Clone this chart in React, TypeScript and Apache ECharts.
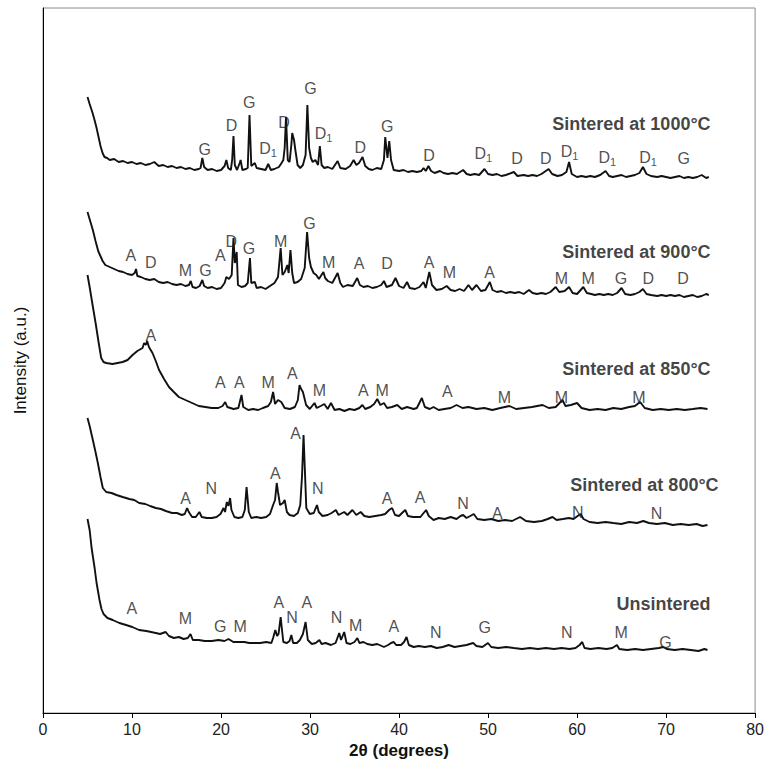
import React, { useEffect, useRef } from "react";
import * as echarts from "echarts";

// XRD traces: [2θ (deg), intensity (a.u., stacked)]
const trace1000: number[][] = [
  [5.0, 616], [5.24, 609], [5.57, 600], [5.79, 593], [6.02, 585], [6.24, 576], [6.46, 567], [6.69, 560], [6.91, 556],
  [7.2, 555], [7.5, 553], [8.0, 554], [8.5, 551], [9.0, 552], [9.5, 550], [10.0, 551], [10.5, 549], [11.0, 550],
  [11.5, 548], [12.0, 549], [12.5, 551], [13.0, 547], [13.5, 548], [14.0, 546], [14.5, 547], [15.0, 545], [15.5, 546],
  [16.0, 544], [16.5, 545], [17.0, 543], [17.5, 544], [17.7, 545], [17.9, 555], [18.1, 546], [18.5, 543], [19.0, 544],
  [19.5, 542], [20.0, 543], [20.4, 547], [20.6, 553], [20.8, 545], [21.1, 543], [21.25, 553], [21.4, 577], [21.55, 548],
  [21.8, 543], [22.1, 550], [22.2, 553], [22.4, 543], [22.8, 544], [23.0, 545], [23.2, 598], [23.4, 547], [23.8, 550],
  [24.0, 545], [24.5, 544], [25.0, 543], [25.3, 549], [25.6, 543], [26.0, 544], [26.5, 546], [26.8, 550], [27.0, 553],
  [27.15, 565], [27.3, 596], [27.5, 553], [27.7, 551], [27.9, 568], [28.0, 580], [28.2, 573], [28.35, 563], [28.6, 548],
  [28.9, 545], [29.2, 548], [29.5, 558], [29.7, 608], [29.9, 565], [30.1, 555], [30.3, 551], [30.6, 553], [30.9, 548],
  [31.1, 567], [31.3, 548], [31.6, 545], [32.0, 546], [32.5, 544], [33.1, 552], [33.4, 545], [34.0, 544], [34.5, 547],
  [34.9, 553], [35.2, 548], [35.5, 550], [35.9, 556], [36.2, 547], [36.6, 544], [37.0, 543], [37.5, 545], [38.0, 544],
  [38.3, 553], [38.45, 576], [38.7, 555], [38.9, 572], [39.1, 553], [39.4, 543], [40.0, 542], [40.5, 543], [41.0, 541],
  [41.5, 542], [42.0, 541], [42.5, 542], [42.75, 545], [43.0, 542], [43.3, 547], [43.6, 542], [44.0, 540], [44.6, 542],
  [45.0, 540], [45.5, 539], [46.0, 540], [46.5, 539], [47.2, 543], [47.6, 539], [48.0, 538], [48.5, 539], [49.0, 538],
  [49.6, 544], [50.0, 539], [50.5, 538], [51.0, 539], [51.5, 537], [52.0, 538], [52.9, 541], [53.3, 537], [54.0, 538],
  [54.5, 537], [55.0, 538], [55.5, 537], [56.0, 539], [56.8, 544], [57.2, 539], [57.8, 537], [58.3, 538], [58.8, 541],
  [59.1, 551], [59.4, 539], [60.0, 536], [60.5, 537], [61.0, 536], [61.5, 537], [62.0, 536], [62.6, 538], [63.2, 542],
  [63.6, 537], [64.0, 536], [64.5, 537], [65.0, 538], [65.5, 536], [66.0, 537], [66.5, 538], [67.0, 540], [67.4, 546],
  [67.8, 539], [68.3, 537], [69.0, 536], [69.5, 537], [70.0, 536], [70.5, 535], [71.0, 536], [71.5, 537], [72.0, 535],
  [72.5, 536], [73.0, 535], [73.5, 536], [74.0, 538], [74.5, 535], [74.8, 536],
];

const trace900: number[][] = [
  [5.0, 501], [5.3, 492], [5.6, 483], [5.9, 472], [6.2, 462], [6.5, 456], [6.7, 452], [7.0, 448], [7.5, 446], [8.0, 444],
  [8.5, 442], [9.0, 441], [9.5, 439], [10.0, 438], [10.3, 440], [10.45, 444], [10.6, 437], [11.0, 436], [11.5, 434],
  [12.0, 433], [12.5, 434], [13.0, 431], [13.5, 430], [14.0, 431], [14.5, 429], [15.0, 428], [15.5, 429], [16.0, 427],
  [16.4, 428], [16.6, 432], [16.8, 426], [17.2, 425], [17.6, 427], [17.9, 433], [18.1, 427], [18.5, 425], [19.0, 426],
  [19.5, 424], [20.0, 425], [20.4, 430], [20.6, 436], [20.9, 434], [21.2, 438], [21.4, 475], [21.55, 450], [21.76, 461],
  [21.9, 428], [22.3, 426], [22.7, 427], [23.0, 430], [23.25, 455], [23.4, 430], [23.8, 431], [24.0, 425], [24.5, 426],
  [25.0, 424], [25.5, 427], [26.0, 430], [26.4, 436], [26.7, 465], [26.9, 438], [27.15, 441], [27.45, 448], [27.6, 440],
  [27.8, 463], [28.0, 440], [28.2, 430], [28.6, 431], [29.0, 434], [29.4, 445], [29.67, 481], [29.9, 455], [30.1, 446],
  [30.4, 440], [30.7, 438], [31.0, 434], [31.5, 441], [31.7, 435], [32.0, 432], [32.5, 430], [33.1, 440], [33.4, 430],
  [33.7, 426], [34.2, 428], [34.8, 427], [35.3, 435], [35.6, 428], [36.0, 426], [36.5, 427], [37.0, 425], [37.5, 426],
  [38.0, 428], [38.3, 432], [38.6, 426], [39.2, 428], [39.6, 435], [40.0, 427], [40.5, 425], [40.9, 431], [41.2, 425],
  [41.8, 424], [42.3, 426], [42.75, 431], [43.0, 425], [43.4, 441], [43.7, 428], [44.2, 423], [44.8, 424], [45.35, 427],
  [45.8, 423], [46.3, 422], [46.8, 424], [47.3, 422], [47.8, 428], [48.2, 423], [48.7, 428], [49.2, 422], [49.7, 423],
  [50.2, 431], [50.5, 423], [51.0, 421], [51.5, 422], [52.0, 420], [52.5, 421], [53.0, 420], [53.5, 421], [54.0, 419],
  [54.6, 423], [55.0, 420], [55.5, 419], [56.0, 420], [56.5, 419], [57.0, 421], [57.6, 426], [58.0, 421], [58.6, 422],
  [59.1, 426], [59.5, 420], [60.0, 419], [60.7, 426], [61.1, 420], [61.6, 419], [62.0, 418], [62.5, 419], [63.0, 418],
  [63.5, 419], [64.0, 418], [64.5, 420], [65.0, 425], [65.4, 419], [66.0, 418], [66.5, 419], [67.0, 421], [67.4, 424],
  [67.8, 419], [68.3, 418], [69.0, 417], [69.5, 418], [70.0, 417], [70.5, 418], [71.0, 417], [71.5, 418], [72.0, 416],
  [72.5, 417], [73.0, 418], [73.5, 416], [74.0, 417], [74.5, 419], [74.8, 418],
];

const trace850: number[][] = [
  [5.0, 438], [5.24, 426], [5.57, 408], [5.91, 390], [6.24, 371], [6.54, 355], [6.8, 351], [7.1, 350], [7.8, 349],
  [8.95, 351], [9.5, 353], [10.06, 358], [10.6, 362], [11.18, 365], [11.36, 370], [11.55, 368], [11.7, 372], [11.9, 366],
  [12.3, 360], [12.67, 352], [13.04, 343], [13.6, 334], [14.15, 326], [14.7, 321], [15.26, 316], [16.0, 313], [16.75, 310],
  [17.5, 307], [18.24, 306], [18.94, 305], [19.7, 305], [20.17, 307], [20.47, 311], [20.7, 306], [21.4, 304], [21.95, 305],
  [22.3, 318], [22.5, 306], [23.06, 303], [23.6, 304], [24.18, 303], [24.7, 305], [25.3, 307], [25.6, 311], [25.85, 321],
  [26.07, 309], [26.4, 313], [26.77, 311], [27.15, 305], [27.75, 304], [28.3, 306], [28.63, 313], [28.82, 328], [29.0, 324],
  [29.2, 321], [29.56, 308], [29.97, 304], [30.5, 310], [30.75, 305], [31.2, 307], [31.6, 309], [31.98, 304], [32.35, 310],
  [32.76, 303], [33.3, 304], [33.87, 302], [34.43, 304], [35.0, 303], [35.54, 305], [35.88, 308], [36.2, 304], [36.77, 306],
  [37.2, 309], [37.55, 314], [37.9, 308], [38.3, 310], [38.66, 305], [39.2, 306], [39.8, 308], [40.3, 304], [40.9, 306],
  [41.64, 304], [42.0, 305], [42.56, 315], [42.9, 306], [43.45, 304], [43.87, 306], [44.45, 303], [45.1, 304], [45.8, 305],
  [46.46, 308], [47.13, 305], [47.8, 306], [48.7, 304], [49.58, 305], [50.47, 303], [51.37, 305], [52.4, 307], [53.15, 304],
  [54.04, 305], [54.93, 306], [56.12, 308], [56.82, 305], [57.6, 306], [58.35, 313], [58.7, 307], [59.3, 308], [60.0, 310],
  [60.5, 305], [61.4, 303], [62.3, 304], [63.2, 303], [64.07, 305], [64.96, 304], [65.85, 306], [66.5, 307], [67.08, 311],
  [67.6, 305], [68.5, 303], [69.4, 304], [70.3, 303], [71.2, 304], [72.1, 303], [73.0, 304], [73.87, 305], [74.65, 304],
];

const trace800: number[][] = [
  [5.0, 295], [5.24, 287], [5.6, 273], [5.9, 261], [6.16, 250], [6.46, 236], [6.72, 225], [7.1, 221], [7.7, 220],
  [8.25, 218], [8.95, 216], [9.7, 214], [10.25, 213], [10.8, 210], [11.5, 209], [12.03, 207], [12.67, 205], [13.26, 204],
  [13.8, 202], [14.5, 200], [15.04, 200], [15.6, 198], [15.93, 199], [16.19, 205], [16.38, 201], [16.75, 196], [17.16, 196],
  [17.57, 201], [17.83, 196], [18.4, 195], [18.97, 195], [19.5, 196], [19.94, 199], [20.28, 205], [20.45, 201], [20.65, 211],
  [20.84, 207], [21.02, 215], [21.17, 203], [21.5, 196], [21.95, 195], [22.4, 196], [22.67, 203], [22.87, 226], [23.12, 201],
  [23.4, 195], [23.96, 196], [24.5, 195], [25.07, 196], [25.5, 199], [25.85, 208], [26.07, 213], [26.26, 230], [26.4, 221],
  [26.63, 208], [26.96, 210], [27.15, 213], [27.4, 201], [27.7, 198], [28.19, 197], [28.63, 200], [28.9, 208], [29.1, 237],
  [29.27, 278], [29.42, 243], [29.58, 205], [29.97, 199], [30.42, 200], [30.78, 208], [30.98, 201], [31.4, 197], [31.98, 198],
  [32.42, 200], [32.9, 203], [33.2, 198], [33.84, 201], [34.2, 198], [34.76, 203], [35.2, 198], [35.69, 201], [36.1, 197],
  [36.66, 196], [37.33, 197], [38.0, 198], [38.44, 199], [38.88, 203], [39.22, 205], [39.55, 198], [40.0, 197], [40.33, 200],
  [40.7, 203], [41.0, 197], [41.56, 196], [42.0, 196], [42.4, 196], [42.67, 199], [43.04, 203], [43.34, 197], [43.87, 193],
  [44.46, 195], [45.13, 194], [45.8, 196], [46.46, 194], [46.9, 197], [47.2, 198], [47.58, 195], [48.0, 197], [48.39, 199],
  [48.8, 194], [49.58, 193], [50.36, 194], [51.14, 192], [51.92, 193], [52.7, 192], [53.6, 196], [54.26, 192], [55.15, 191],
  [56.04, 192], [56.7, 194], [57.24, 196], [57.7, 193], [58.4, 194], [59.09, 195], [59.6, 194], [60.06, 197], [60.4, 199],
  [60.72, 194], [61.4, 191], [62.3, 190], [63.2, 191], [64.07, 190], [64.96, 189], [65.85, 191], [66.74, 190], [67.44, 192],
  [68.08, 190], [68.97, 189], [69.86, 190], [70.75, 188], [71.64, 189], [72.54, 188], [73.43, 189], [74.1, 187], [74.65, 188],
];

const traceUnsintered: number[][] = [
  [5.0, 194], [5.24, 183], [5.46, 165], [5.8, 145], [6.02, 130], [6.35, 113], [6.57, 104], [6.8, 99], [7.24, 95],
  [7.83, 93], [8.58, 90], [9.33, 88], [10.03, 86], [10.8, 83], [11.6, 82], [12.14, 81], [12.67, 80], [13.15, 79],
  [13.78, 81], [14.15, 77], [14.7, 75], [15.26, 76], [15.8, 74], [16.27, 75], [16.57, 79], [16.83, 73], [17.5, 73],
  [18.16, 72], [18.97, 72], [19.72, 73], [20.39, 72], [20.84, 74], [21.39, 71], [21.95, 71], [22.6, 71], [23.18, 70],
  [23.8, 70], [24.4, 70], [25.07, 71], [25.66, 70], [25.85, 75], [26.1, 83], [26.3, 77], [26.46, 79], [26.7, 96],
  [26.85, 83], [27.0, 71], [27.4, 70], [27.7, 72], [27.9, 78], [28.1, 70], [28.52, 70], [28.86, 73], [29.2, 79],
  [29.5, 91], [29.75, 73], [30.2, 69], [30.64, 70], [31.05, 73], [31.3, 69], [31.75, 70], [32.35, 68], [32.87, 70],
  [33.28, 80], [33.48, 73], [33.84, 81], [34.1, 70], [34.54, 69], [34.99, 71], [35.32, 75], [35.54, 70], [36.0, 71],
  [36.43, 69], [36.99, 68], [37.55, 69], [38.3, 66], [38.77, 68], [39.1, 70], [39.41, 71], [39.67, 68], [40.22, 68],
  [40.56, 71], [40.84, 76], [41.1, 68], [41.64, 66], [42.2, 67], [42.9, 66], [43.57, 67], [44.23, 65], [44.9, 66],
  [45.57, 68], [46.24, 66], [46.9, 67], [47.58, 68], [48.32, 70], [48.7, 67], [49.36, 66], [49.99, 70], [50.36, 66],
  [51.14, 65], [52.03, 66], [52.9, 65], [53.8, 64], [54.7, 65], [55.6, 64], [56.5, 65], [57.4, 64], [58.27, 65],
  [59.16, 64], [59.83, 65], [60.28, 68], [60.58, 71], [60.84, 65], [61.5, 64], [62.4, 65], [63.3, 64], [63.96, 65],
  [64.48, 68], [64.74, 64], [65.63, 63], [66.52, 64], [67.4, 63], [68.3, 64], [69.19, 65], [69.67, 66], [70.08, 64],
  [70.97, 63], [71.86, 64], [72.76, 63], [73.65, 62], [74.3, 64], [74.65, 63],
];

// Phase markers: [2θ, height, phase]
const phases1000: (number | string)[][] = [
  [18.16, 564, "G"], [21.17, 588, "D"], [23.18, 611, "G"], [25.29, 565, "D1"], [27.07, 591, "D"], [30.05, 625, "G"],
  [31.53, 580, "D1"], [35.65, 566, "D"], [38.66, 587, "G"], [43.38, 558, "D"], [49.47, 560, "D1"], [53.26, 555, "D"],
  [56.49, 555, "D"], [59.16, 562, "D1"], [63.4, 556, "D1"], [67.97, 556, "D1"], [71.98, 555, "G"],
];
const phases900: (number | string)[][] = [
  [9.88, 458, "A"], [12.11, 451, "D"], [16.01, 443, "M"], [18.24, 443, "G"], [19.91, 458, "A"], [21.14, 472, "D"],
  [23.14, 465, "G"], [26.71, 472, "M"], [29.94, 490, "G"], [32.09, 451, "M"], [35.51, 450, "A"], [38.66, 450, "D"],
  [43.38, 451, "A"], [45.65, 441, "M"], [50.17, 441, "A"], [58.24, 435, "M"], [61.25, 435, "M"], [64.92, 435, "G"],
  [68.0, 435, "D"], [71.9, 435, "D"],
];
const phases850: (number | string)[][] = [
  [12.11, 378, "A"], [19.91, 331, "A"], [22.06, 331, "A"], [25.29, 331, "M"], [28.0, 340, "A"], [31.05, 323, "M"],
  [35.99, 323, "A"], [38.1, 323, "M"], [45.43, 322, "A"], [51.84, 316, "M"], [58.24, 316, "M"], [66.96, 316, "M"],
];
const phases800: (number | string)[][] = [
  [16.01, 215, "A"], [18.91, 225, "N"], [26.1, 240, "A"], [28.38, 280, "A"], [30.86, 225, "N"], [38.66, 215, "A"],
  [42.37, 216, "A"], [47.2, 210, "N"], [51.03, 200, "A"], [60.09, 201, "N"], [68.94, 200, "N"],
];
const phasesUnsintered: (number | string)[][] = [
  [9.99, 105, "A"], [16.01, 95, "M"], [19.91, 87, "G"], [22.14, 87, "M"], [26.48, 111, "A"], [27.97, 96, "N"],
  [29.64, 111, "A"], [32.98, 96, "N"], [35.13, 88, "M"], [39.41, 87, "A"], [44.12, 81, "N"], [49.62, 86, "G"],
  [58.83, 81, "N"], [64.96, 81, "M"], [69.94, 71, "G"],
];

// Sample titles: [2θ at right end of text, height, text]
const sampleTitles: (number | string)[][] = [
  [75.0, 589, "Sintered at 1000°C"],
  [75.0, 461, "Sintered at 900°C"],
  [75.0, 344, "Sintered at 850°C"],
  [75.9, 228, "Sintered at 800°C"],
  [75.0, 109, "Unsintered"],
];

const xTicks = { min: 0, max: 80, interval: 10 };
const yRange = { min: 0, max: 705 };

const FONT = "'Liberation Sans', Arial, Helvetica, sans-serif";
const NARROW = "'Liberation Sans Narrow', 'Arial Narrow', 'Liberation Sans', sans-serif";

export default function App() {
  const ref = useRef<HTMLDivElement>(null);
  useEffect(() => {
    document.body.style.margin = "0";
    document.body.style.overflow = "hidden";
    const chart = echarts.init(ref.current!, undefined, { renderer: "svg" });
    const traces = [trace1000, trace900, trace850, trace800, traceUnsintered];
    const phaseSets = [phases1000, phases900, phases850, phases800, phasesUnsintered];
    const lineSeries = traces.map((d) => ({
      type: "line",
      data: d,
      showSymbol: false,
      symbol: "none",
      smooth: false,
      silent: true,
      lineStyle: { color: "#111", width: 1.9 },
      z: 2,
    }));
    const labelSeries = phaseSets.map((d) => ({
      type: "scatter",
      data: d,
      symbolSize: 1,
      itemStyle: { color: "rgba(0,0,0,0)" },
      silent: true,
      encode: { x: 0, y: 1 },
      label: {
        show: true,
        position: "inside",
        color: "#222",
        fontSize: 16,
        fontFamily: FONT,
        formatter: (p: any) => (p.data[2] === "D1" ? "{d|D}{s|1}" : String(p.data[2])),
        rich: {
          d: { fontSize: 16, fontFamily: FONT, color: "#222", lineHeight: 18, verticalAlign: "middle" },
          s: { fontSize: 11, fontFamily: FONT, color: "#222", lineHeight: 12, padding: [9, 0, 0, 0], verticalAlign: "middle" },
        },
      },
      z: 3,
    }));
    const titleSeries = {
      type: "scatter",
      data: sampleTitles,
      symbolSize: 1,
      itemStyle: { color: "rgba(0,0,0,0)" },
      silent: true,
      encode: { x: 0, y: 1 },
      label: {
        show: true,
        position: "inside",
        align: "right",
        verticalAlign: "middle",
        color: "#111",
        fontSize: 18,
        fontWeight: "bold",
        fontFamily: FONT,
        formatter: (p: any) => String(p.data[2]),
      },
      z: 3,
    };
    chart.setOption({
      animation: false,
      backgroundColor: "#fff",
      grid: { left: 43, right: 6, top: 8, bottom: 56, show: true, borderColor: "#8a8a8a", borderWidth: 1 },
      xAxis: {
        type: "value",
        min: xTicks.min,
        max: xTicks.max,
        interval: xTicks.interval,
        axisLine: { show: true, onZero: false, lineStyle: { color: "#000", width: 1 } },
        axisTick: { show: true, inside: false, length: 5, lineStyle: { color: "#000" } },
        axisLabel: { fontSize: 16, color: "#222", margin: 8, fontFamily: NARROW },
        splitLine: { show: false },
        name: "2θ (degrees)",
        nameLocation: "middle",
        nameGap: 25,
        nameTextStyle: { fontSize: 17, fontWeight: "bold", color: "#111", fontFamily: NARROW },
      },
      yAxis: {
        type: "value",
        min: yRange.min,
        max: yRange.max,
        axisLine: { show: true, onZero: false, lineStyle: { color: "#000", width: 1 } },
        axisTick: { show: false },
        axisLabel: { show: false },
        splitLine: { show: false },
        name: "Intensity (a.u.)",
        nameLocation: "middle",
        nameGap: 14,
        nameRotate: 90,
        nameTextStyle: { fontSize: 17, color: "#111", fontFamily: NARROW },
      },
      series: [...lineSeries, ...labelSeries, titleSeries],
    } as any);
    return () => chart.dispose();
  }, []);
  return <div ref={ref} style={{ position: "absolute", left: 0, top: 0, width: 767, height: 769 }} />;
}
